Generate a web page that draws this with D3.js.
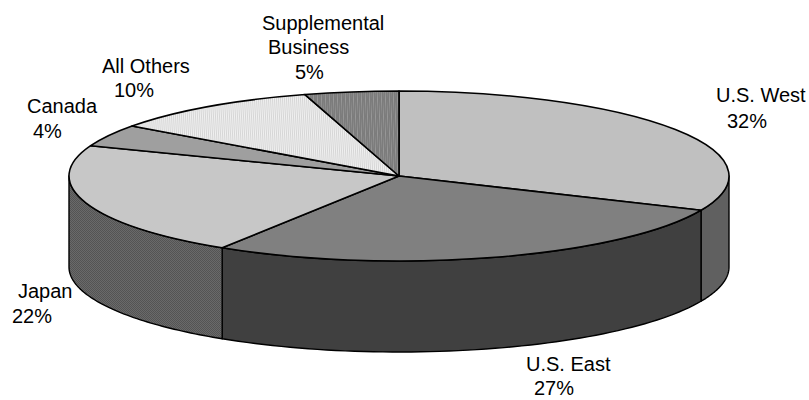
<!DOCTYPE html>
<html><head><meta charset="utf-8">
<script src="https://cdn.jsdelivr.net/npm/d3@7/dist/d3.min.js"></script>
<style>html,body{margin:0;background:#fff}svg{display:block}text{font-family:"Liberation Sans",Arial,sans-serif;font-size:20px;fill:#000}</style>
</head><body><svg id="c" width="809" height="400"></svg>
<script>
const categories=["U.S. West","U.S. East","Japan","Canada","All Others","Supplemental Business"];
const shares=[31.6,27.4,21.8,4.2,10.4,4.6];
const labelLines=[["U.S. West","32%"],["U.S. East","27%"],["Japan","22%"],["Canada","4%"],["All Others","10%"],["Supplemental","Business","5%"]];
const labelXs=[[716,727],[526,534],[18,12],[27,33],[102,114],[262,268,295]];
const labelYs=[[102,128],[371,395],[298,323],[113,138],[73,97],[30,54,79]];
const topFills=["#c0c0c0","#808080","url(#pJapanTop)","url(#pCanada)","url(#pOthers)","url(#pSupp)"];
const sideFills=["#606060","#404040","url(#pJapanSide)","#505050","#707070","#404040"];

const cx=399,cy=176,rx=330,ry=85,depth=91;
const svg=d3.select("#c"),defs=svg.append("defs");
function pat(id,w,h,bg,fg,cells){
  const p=defs.append("pattern").attr("id",id).attr("patternUnits","userSpaceOnUse").attr("width",w).attr("height",h);
  p.append("rect").attr("width",w).attr("height",h).attr("fill",bg);
  cells.forEach(c=>p.append("rect").attr("x",c[0]).attr("y",c[1]).attr("width",1).attr("height",1).attr("fill",fg));
}
pat("pJapanTop",2,2,"#d6d6d6","#b8b8b8",[[0,0],[1,1]]);
pat("pCanada",2,2,"#a8a8a8","#969696",[[0,0],[1,1]]);
pat("pOthers",4,4,"#f0f0f0","#bcbcbc",[[0,0],[2,0],[1,2],[3,2]]);
pat("pSupp",4,4,"#7c7c7c","#b4b4b4",[[0,0],[2,2]]);
pat("pJapanSide",2,2,"#6a6a6a","#545454",[[0,0],[1,1]]);

const arcs=d3.pie().sort(null).value(d=>d)(shares);
const px=a=>cx+rx*Math.sin(a), py=a=>cy-ry*Math.cos(a);
const line=d3.line();
const sideG=svg.append("g");
arcs.forEach((d,i)=>{
  const a0=Math.max(d.startAngle,Math.PI/2),a1=Math.min(d.endAngle,Math.PI*1.5);
  if(a1<=a0) return;
  const ang=d3.range(0,61).map(k=>a0+(a1-a0)*k/60);
  const top=ang.map(a=>[px(a),py(a)]);
  const bot=ang.map(a=>[px(a),py(a)+depth]).reverse();
  sideG.append("path").attr("d",line(top.concat(bot))+"Z").attr("fill",sideFills[i]).attr("stroke","#000").attr("stroke-width",1.4).attr("stroke-linejoin","round");
});
const arc=d3.arc().innerRadius(0).outerRadius(rx);
svg.append("g").attr("transform",`translate(${cx},${cy}) scale(1,${ry/rx})`)
  .selectAll("path").data(arcs).join("path").attr("d",arc)
  .attr("fill",(d,i)=>topFills[i]).attr("stroke","#000").attr("stroke-width",1.6)
  .attr("vector-effect","non-scaling-stroke").attr("stroke-linejoin","round");
labelLines.forEach((ls,i)=>{
  ls.forEach((t,j)=>{
    svg.append("text").attr("x",labelXs[i][j]).attr("y",labelYs[i][j]).text(t);
  });
});
</script></body></html>
